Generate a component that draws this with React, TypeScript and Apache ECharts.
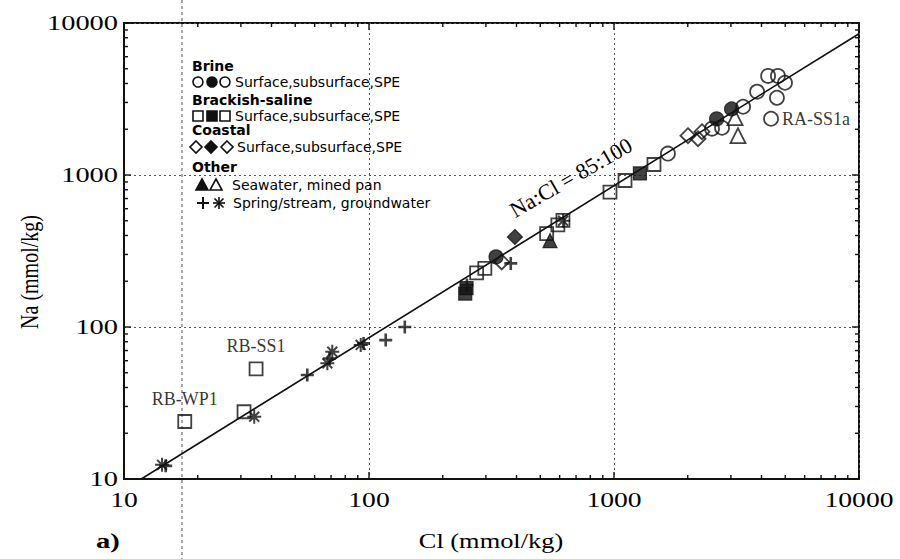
import React, { useEffect, useRef } from 'react';
import * as echarts from 'echarts';

// ---- tick labels ----
const xTickLabels = ['10', '100', '1000', '10000'];
const yTickLabels = ['10', '100', '1000', '10000'];
const majorTicks = [10, 100, 1000, 10000];
const minorTicks = [20, 30, 40, 50, 60, 70, 80, 90, 200, 300, 400, 500, 600, 700, 800, 900, 2000, 3000, 4000, 5000, 6000, 7000, 8000, 9000];

// ---- data [Cl, Na] in mmol/kg ----
const brineOpen = [[1660, 1383], [2512, 2018], [2760, 2046], [3365, 2812], [3838, 3532], [4256, 4487], [4667, 4487], [4988, 4046], [4624, 3221]];
const brineFilled = [[330, 289], [2624, 2339], [3020, 2716]];
const brineLabelled = [{ name: 'RA-SS1a', value: [4375, 2344] }];
const brackishOpen = [[30.9, 27.7], [275, 227], [297, 243], [531, 411], [590, 470], [619, 503], [963, 771], [1109, 920], [1456, 1172]];
const brackishLabelled = [{ name: 'RB-WP1', value: [17.7, 23.9] }, { name: 'RB-SS1', value: [34.6, 53.1] }];
const brackishFilled = [[247, 166], [250, 180], [1276, 1024]];
const coastalOpen = [[348, 268], [2004, 1815], [2203, 1734], [2286, 1928]];
const coastalFilled = [[394, 391]];
const seawater = [[548, 370]];
const minedPan = [[3206, 1815], [3119, 2383]];
const spring = [[14.8, 12.2], [56, 48.3], [69, 62], [95, 78], [117, 82], [140, 100], [251, 189], [379, 262]];
const groundwater = [[14.3, 12.4], [34, 25.7], [67.6, 57.7], [70.8, 68.7], [92.5, 76.2], [620, 500]];
const ratioLine = [[11.76, 10], [10000, 8500]];
const ratioText = 'Na:Cl = 85:100';
const ratioTextAt = [667, 964];

// ---- legend texts ----
const legendHeads = ['Brine', 'Brackish-saline', 'Coastal', 'Other'];
const legendRows = ['Surface,subsurface,SPE', 'Surface,subsurface,SPE', 'Surface,subsurface,SPE', 'Seawater, mined pan', 'Spring/stream, groundwater'];

const SERIF = '"Liberation Serif", "Times New Roman", serif';
const SANS = '"DejaVu Sans", Verdana, sans-serif';
const INK = '#000';

const PLUS = 'path://M-1.4,-7 L1.4,-7 L1.4,-1.4 L7,-1.4 L7,1.4 L1.4,1.4 L1.4,7 L-1.4,7 L-1.4,1.4 L-7,1.4 L-7,-1.4 L-1.4,-1.4 Z';
const STAR = 'path://M-7,-1 L7,-1 L7,1 L-7,1 Z M-1,-7 L1,-7 L1,7 L-1,7 Z M-4.24,-5.66 L5.66,4.24 L4.24,5.66 L-5.66,-4.24 Z M-5.66,4.24 L4.24,-5.66 L5.66,-4.24 L-4.24,5.66 Z';

function openStyle() {
  return { color: 'rgba(255,255,255,0)', borderColor: '#111', borderWidth: 1.8 };
}
function filledStyle() {
  return { color: '#111', borderColor: '#111', borderWidth: 1.2 };
}

export default function App() {
  const ref = useRef<HTMLDivElement>(null);
  useEffect(() => {
    const el = ref.current as HTMLDivElement;
    const chart = echarts.init(el, null, { renderer: 'svg' });

    const labelStyle = { fontFamily: SERIF, fontSize: 18, color: INK };

    const tickSeries = (vals: number[], len: number, dir: 'x' | 'y') => ({
      type: 'custom',
      silent: true,
      z: 5,
      data: vals.map((v) => (dir === 'x' ? [v, 10] : [10, v])),
      renderItem: (_p: any, api: any) => {
        const v = dir === 'x' ? api.value(0) : api.value(1);
        const st = { stroke: '#111', lineWidth: 1.4 };
        if (dir === 'x') {
          const b = api.coord([v, 10]);
          const t = api.coord([v, 10000]);
          return {
            type: 'group',
            children: [
              { type: 'line', shape: { x1: b[0], y1: b[1], x2: b[0], y2: b[1] - len }, style: st },
              { type: 'line', shape: { x1: t[0], y1: t[1], x2: t[0], y2: t[1] + len }, style: st },
            ],
          };
        }
        const l = api.coord([10, v]);
        const r = api.coord([10000, v]);
        return {
          type: 'group',
          children: [
            { type: 'line', shape: { x1: l[0], y1: l[1], x2: l[0] + len, y2: l[1] }, style: st },
            { type: 'line', shape: { x1: r[0], y1: r[1], x2: r[0] - len, y2: r[1] }, style: st },
          ],
        };
      },
    });

    const axisCommon = {
      type: 'log',
      logBase: 10,
      min: 10,
      max: 10000,
      axisLine: { show: true, lineStyle: { color: '#111', width: 2 } },
      axisTick: { show: false },
      axisLabel: { show: false },
      splitLine: { show: true, lineStyle: { color: '#555', width: 1, type: [2, 3] } },
    };

    chart.setOption({
      animation: false,
      backgroundColor: '#fff',
      textStyle: { fontFamily: SERIF },
      grid: { left: 124, right: 41, top: 23, bottom: 80, show: true, borderColor: '#111', borderWidth: 2 },
      xAxis: { ...axisCommon },
      yAxis: { ...axisCommon },
      series: [
        { type: 'line', data: ratioLine, symbol: 'none', lineStyle: { color: '#111', width: 1.6 }, z: 1, silent: true },
        tickSeries(majorTicks, 7, 'x'),
        tickSeries(minorTicks, 4, 'x'),
        tickSeries(majorTicks, 7, 'y'),
        tickSeries(minorTicks, 4, 'y'),
        {
          name: 'Brine open', type: 'scatter', symbol: 'circle', symbolSize: 14, itemStyle: openStyle(), z: 3,
          data: [
            ...brineOpen,
            ...brineLabelled.map((d) => ({ ...d, label: { show: true, position: 'right', distance: 3, formatter: '{b}', ...labelStyle } })),
          ],
        },
        { name: 'Brine filled', type: 'scatter', symbol: 'circle', symbolSize: 14, itemStyle: filledStyle(), z: 3, data: brineFilled },
        {
          name: 'Brackish open', type: 'scatter', symbol: 'rect', symbolSize: 13, itemStyle: openStyle(), z: 3,
          data: [
            ...brackishOpen,
            ...brackishLabelled.map((d) => ({ ...d, label: { show: true, position: 'top', distance: 6, formatter: '{b}', ...labelStyle } })),
          ],
        },
        { name: 'Brackish filled', type: 'scatter', symbol: 'rect', symbolSize: 13, itemStyle: filledStyle(), z: 3, data: brackishFilled },
        { name: 'Coastal open', type: 'scatter', symbol: 'diamond', symbolSize: 15, itemStyle: openStyle(), z: 3, data: coastalOpen },
        { name: 'Coastal filled', type: 'scatter', symbol: 'diamond', symbolSize: 15, itemStyle: filledStyle(), z: 3, data: coastalFilled },
        { name: 'Seawater', type: 'scatter', symbol: 'triangle', symbolSize: 14, itemStyle: filledStyle(), z: 3, data: seawater },
        { name: 'Mined pan', type: 'scatter', symbol: 'triangle', symbolSize: 15, itemStyle: openStyle(), z: 3, data: minedPan },
        { name: 'Spring/stream', type: 'scatter', symbol: PLUS, symbolSize: 13, itemStyle: { color: '#111' }, z: 4, data: spring },
        { name: 'Groundwater', type: 'scatter', symbol: STAR, symbolSize: 14, itemStyle: { color: '#111' }, z: 4, data: groundwater },
      ],
    });

    const toPx = (v: number[]) => chart.convertToPixel({ gridIndex: 0 }, v) as number[];
    const p = toPx(ratioTextAt);

    const g: any[] = [];
    // scan fold line
    g.push({ type: 'line', z: 0, silent: true, shape: { x1: 182, y1: 0, x2: 182, y2: 559 }, style: { stroke: '#555', lineWidth: 1, lineDash: [3, 3] } });

    // tick labels (stretched serif, as in the scanned figure)
    majorTicks.forEach((v, i) => {
      const px = toPx([v, 10]);
      g.push({
        type: 'text', x: px[0], y: px[1] + 21, scaleX: 1.38, z: 20,
        style: { text: xTickLabels[i], fontFamily: SERIF, fontSize: 20, fill: INK, align: 'center', verticalAlign: 'middle' },
      });
      const py = toPx([10, v]);
      g.push({
        type: 'text', x: py[0] - 6, y: py[1], scaleX: 1.42, z: 20,
        style: { text: yTickLabels[i], fontFamily: SERIF, fontSize: 20, fill: INK, align: 'right', verticalAlign: 'middle' },
      });
    });

    const headY = [66, 100, 130, 167];
    legendHeads.forEach((t, i) => {
      g.push({ type: 'text', x: 192, y: headY[i], z: 20, style: { text: t, fontFamily: SANS, fontSize: 14, fontWeight: 'bold', fill: INK, align: 'left', verticalAlign: 'middle' } });
    });
    const rowY = [82, 116, 147, 185, 203];
    const rowX = [235, 235, 237, 232, 233];
    legendRows.forEach((t, i) => {
      g.push({ type: 'text', x: rowX[i], y: rowY[i], z: 20, style: { text: t, fontFamily: SANS, fontSize: 14, fill: INK, align: 'left', verticalAlign: 'middle' } });
    });
    const sx = [198, 212, 225];
    const fills = ['#fff', '#111', '#fff'];
    const stroke = { stroke: '#111', lineWidth: 1.6 };
    sx.forEach((x, i) => {
      g.push({ type: 'circle', z: 20, shape: { cx: x, cy: rowY[0], r: 5 }, style: { fill: fills[i], ...stroke } });
      g.push({ type: 'rect', z: 20, shape: { x: x - 5, y: rowY[1] - 5, width: 10, height: 10 }, style: { fill: fills[i], ...stroke } });
    });
    [196, 211, 227].forEach((x, i) => {
      const y = rowY[2];
      g.push({ type: 'polygon', z: 20, shape: { points: [[x, y - 6], [x + 6, y], [x, y + 6], [x - 6, y]] }, style: { fill: fills[i], ...stroke } });
    });
    [[202, '#111'], [216, '#fff']].forEach(([x, f]: any) => {
      const y = rowY[3];
      g.push({ type: 'polygon', z: 20, shape: { points: [[x, y - 6], [x + 6, y + 5], [x - 6, y + 5]] }, style: { fill: f, ...stroke } });
    });
    {
      const y = rowY[4];
      const st = { stroke: '#111', lineWidth: 2 };
      g.push({ type: 'line', z: 20, shape: { x1: 197, y1: y, x2: 209, y2: y }, style: st });
      g.push({ type: 'line', z: 20, shape: { x1: 203, y1: y - 6, x2: 203, y2: y + 6 }, style: st });
      const cx = 219;
      const st2 = { stroke: '#111', lineWidth: 1.6 };
      g.push({ type: 'line', z: 20, shape: { x1: cx - 6, y1: y, x2: cx + 6, y2: y }, style: st2 });
      g.push({ type: 'line', z: 20, shape: { x1: cx, y1: y - 6, x2: cx, y2: y + 6 }, style: st2 });
      g.push({ type: 'line', z: 20, shape: { x1: cx - 4.5, y1: y - 4.5, x2: cx + 4.5, y2: y + 4.5 }, style: st2 });
      g.push({ type: 'line', z: 20, shape: { x1: cx - 4.5, y1: y + 4.5, x2: cx + 4.5, y2: y - 4.5 }, style: st2 });
    }
    // ratio label
    g.push({
      type: 'text', x: p[0], y: p[1], rotation: (30 * Math.PI) / 180, z: 20,
      style: { text: ratioText, fontFamily: SERIF, fontSize: 22, fill: INK, align: 'center', verticalAlign: 'middle' },
    });
    // axis titles
    g.push({
      type: 'text', x: 30, y: 272, rotation: Math.PI / 2, scaleY: 1.28, z: 20,
      style: { text: 'Na (mmol/kg)', fontFamily: SERIF, fontSize: 20, fill: INK, align: 'center', verticalAlign: 'middle' },
    });
    g.push({
      type: 'text', x: 491, y: 541, scaleX: 1.32, z: 20,
      style: { text: 'Cl (mmol/kg)', fontFamily: SERIF, fontSize: 20, fill: INK, align: 'center', verticalAlign: 'middle' },
    });
    g.push({
      type: 'text', x: 96, y: 541, scaleX: 1.3, z: 20,
      style: { text: 'a)', fontFamily: SERIF, fontSize: 22, fontWeight: 'bold', fill: INK, align: 'left', verticalAlign: 'middle' },
    });

    chart.setOption({ graphic: g });

    return () => chart.dispose();
  }, []);
  return <div ref={ref} style={{ position: 'absolute', left: 0, top: 0, width: 900, height: 559 }} />;
}
